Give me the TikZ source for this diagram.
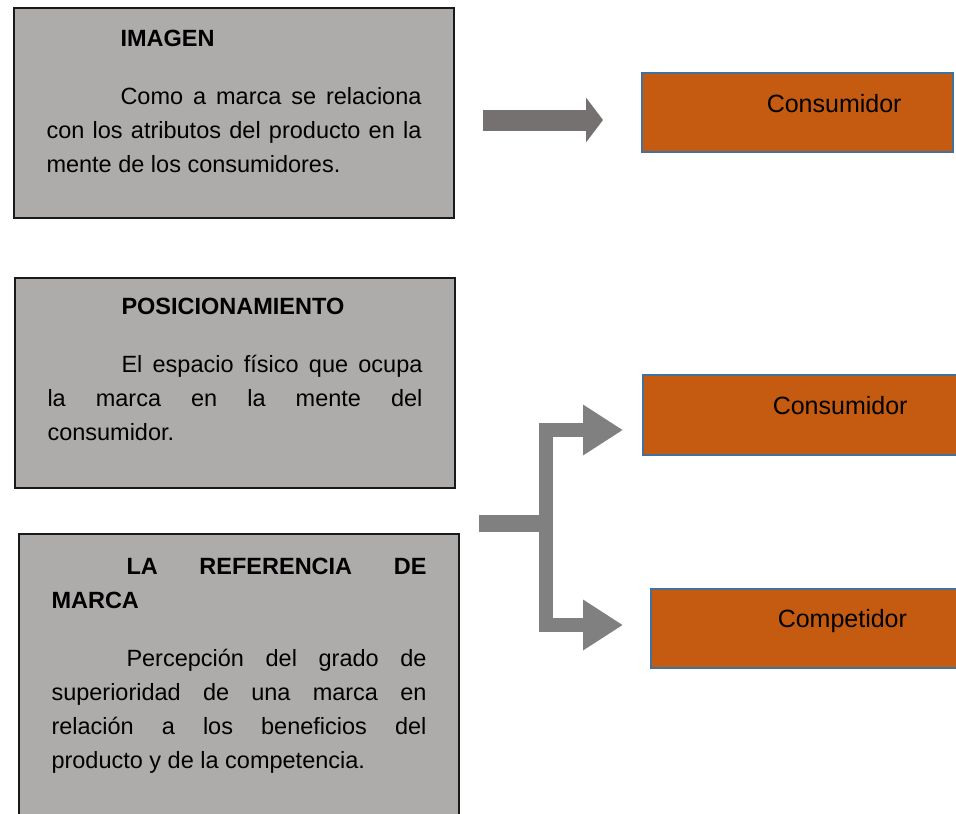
\documentclass[tikz,border=0pt]{standalone}
\usepackage{fontspec}
\setmainfont{Liberation Sans}
\usepackage{tikz}
\usetikzlibrary{arrows.meta}
\definecolor{boxgray}{HTML}{AEABAB}
\definecolor{boxline}{HTML}{1A1A1A}
\definecolor{accentorange}{HTML}{C55A11}
\definecolor{accentblue}{HTML}{41719C}
\definecolor{arrowdark}{HTML}{767171}
\definecolor{arrowgray}{HTML}{808080}
\tikzset{
  conceptbox/.style={draw=boxline, line width=2pt, fill=boxgray, inner xsep=32.5pt, inner ysep=0pt, anchor=north west},
  targetbox/.style={draw=accentblue, line width=1.5pt, fill=accentorange, inner sep=0pt, anchor=north west},
  blockarrow/.style={draw=arrowdark, line width=21pt, -{Triangle[length=17pt, width=44pt]}},
  brancharrow/.style={draw=arrowgray, line width=14pt, -{Triangle[length=40pt, width=48pt]}}
}

\begin{document}
\begin{tikzpicture}[x=1pt, y=-1pt]
    \useasboundingbox (0, 0) rectangle (956, 814);
    \clip (0, 0) rectangle (956, 814);
    % left column
    \node[conceptbox] (imagen) at (13, 7) {\parbox[c][210pt][t]{375pt}{\fontsize{23.5}{34}\selectfont
        \vspace*{22pt}\hspace*{74pt}\textbf{IMAGEN}\par\vspace{24pt}
        \hspace*{74pt}Como a marca se relaciona\linebreak con los atributos del producto en la\linebreak mente de los consumidores.}};
    \node[conceptbox] (posic) at (14, 277) {\parbox[c][210pt][t]{375pt}{\fontsize{23.5}{34}\selectfont
        \vspace*{20pt}\hspace*{74pt}\textbf{POSICIONAMIENTO}\par\vspace{24pt}
        \hspace*{74pt}El espacio físico que ocupa\linebreak la marca en la mente del\linebreak consumidor.}};
    \node[conceptbox] (refer) at (18, 533) {\parbox[c][300pt][t]{375pt}{\fontsize{23.5}{34}\selectfont
        \vspace*{24pt}\hspace*{75pt}\textbf{LA REFERENCIA DE}\linebreak\textbf{MARCA}\par\vspace{24pt}
        \hspace*{75pt}Percepción del grado de\linebreak superioridad de una marca en\linebreak relación a los beneficios del\linebreak producto y de la competencia.}};
    % right column
    \node[targetbox] (cons1) at (641, 72) {\parbox[c][79pt][t]{311pt}{\fontsize{25}{30}\selectfont
        \vspace*{22pt}\hspace*{125pt}Consumidor}};
    \node[targetbox] (cons2) at (642, 374) {\parbox[c][80pt][t]{330pt}{\fontsize{25}{30}\selectfont
        \vspace*{22pt}\hspace*{130pt}Consumidor}};
    \node[targetbox] (compet) at (650, 588) {\parbox[c][79pt][t]{320pt}{\fontsize{25}{30}\selectfont
        \vspace*{21pt}\hspace*{127pt}Competidor}};
    % arrows
    \coordinate (imgtail) at (483, 120);
    \coordinate (imghead) at (603, 120);
    \draw[blockarrow] (imgtail) -- (imghead);
    \coordinate (splitstart) at (479, 523);
    \coordinate (split) at (546, 523);
    \coordinate (toptip) at (623, 430);
    \coordinate (bottip) at (623, 625);
    \draw[arrowgray, line width=17pt] (splitstart) -- (split);
    \draw[brancharrow] (split) |- (toptip);
    \draw[brancharrow] (split) |- (bottip);
\end{tikzpicture}
\end{document}
